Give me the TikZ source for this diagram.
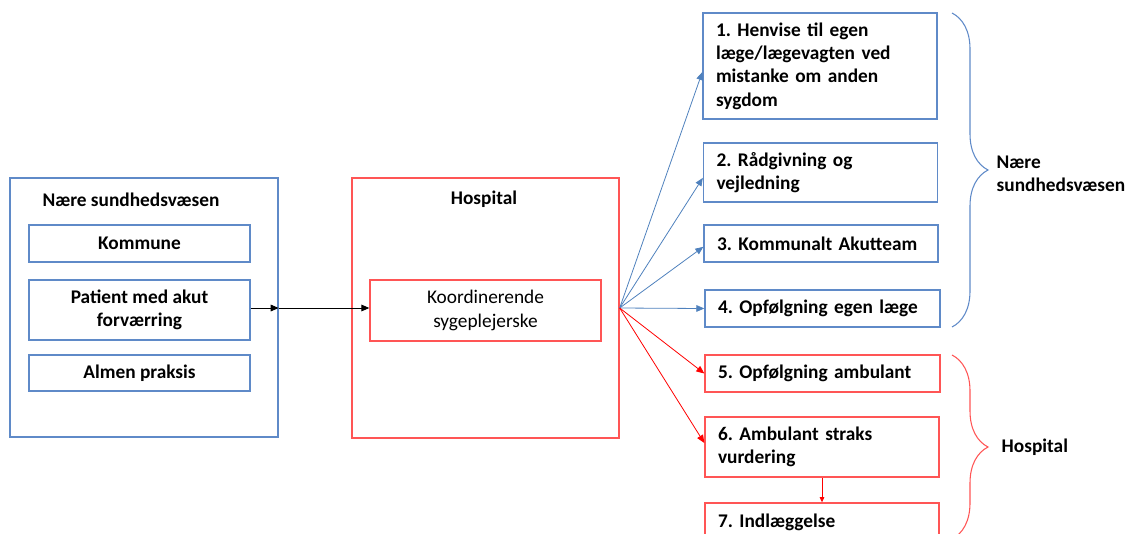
\documentclass[tikz,border=0pt]{standalone}
\usepackage{fontspec}
\setmainfont{Carlito}
\usetikzlibrary{arrows.meta,decorations.pathreplacing}
\definecolor{boxblue}{RGB}{95,138,200}
\definecolor{arrblue}{RGB}{79,129,189}
\definecolor{boxred}{RGB}{255,85,85}
\definecolor{arrred}{RGB}{255,0,0}
\begin{document}
\frenchspacing
\begin{tikzpicture}[x=0.75pt,y=-0.75pt,
    font=\fontsize{14.5}{17.5}\selectfont\bfseries,
    bluebox/.style={draw=boxblue,line width=1pt,inner sep=0pt,align=center},
    redbox/.style={draw=boxred,line width=1pt,inner sep=0pt,align=center},
    optbox/.style={line width=1pt,inner xsep=9.75pt,inner ysep=0pt,text width=156pt,align=left,minimum height=27.75pt},
    bluearr/.style={draw=arrblue,line width=0.6pt,-{Triangle[length=6pt,width=5pt]}},
    redarr/.style={draw=arrred,line width=0.6pt,-{Triangle[length=6pt,width=5pt]}},
    blkarr/.style={draw=black,line width=0.7pt,-{Triangle[length=6pt,width=5pt]}},
    curly/.style={draw,line width=0.8pt,decorate,decoration={brace,amplitude=27pt,aspect=0.5}}]
    \useasboundingbox (0,0) rectangle (1135,533);
    \clip (0,0) rectangle (1135,533);
    % left column
    \node[bluebox,minimum width=201pt,minimum height=194.25pt] (nsv) at (144,307.5) {};
    \node (nsvtitle) at (131,200) {Nære sundhedsvæsen};
    \node[bluebox,minimum width=165.75pt,minimum height=27.75pt] (kom) at (139.5,243.5) {Kommune};
    \node[bluebox,minimum width=165.75pt,minimum height=45pt] (pat) at (139.5,310) {Patient med akut\\forværring};
    \node[bluebox,minimum width=165.75pt,minimum height=27pt] (alm) at (139.5,373) {Almen praksis};
    % hospital
    \node[redbox,minimum width=200.25pt,minimum height=195pt] (hosp) at (485.5,308) {};
    \node (hosptitle) at (484,199) {Hospital};
    \node[redbox,minimum width=173.25pt,minimum height=45.75pt,font=\fontsize{14.5}{17.5}\selectfont] (koord) at (485.5,310.5) {Koordinerende\\sygeplejerske};
    \coordinate (mid) at (nsv.east |- 0,308);
    \draw[blkarr] (0,308 -| pat.east) -- (mid);
    \draw[blkarr] (mid) -- (0,308 -| koord.west);
    % options
    \node[optbox,draw=boxblue,minimum height=79.5pt] (b1) at (820,66) {1. Henvise til egen\\læge/lægevagten ved\\mistanke om anden\\sygdom};
    \node[optbox,draw=boxblue,minimum height=44.25pt] (b2) at (820.5,172.5) {2. Rådgivning og\\vejledning};
    \node[optbox,draw=boxblue] (b3) at (821,243.5) {3. Kommunalt Akutteam};
    \node[optbox,draw=boxblue,text width=156.75pt] (b4) at (822.5,308.5) {4. Opfølgning egen læge};
    \node[optbox,draw=boxred,text width=156.75pt] (b5) at (822.5,373.5) {5. Opfølgning ambulant};
    \node[optbox,draw=boxred,minimum height=45pt] (b6) at (822,447) {6. Ambulant straks\\vurdering};
    \node[optbox,draw=boxred,minimum height=28.5pt] (b7) at (822,522) {7. Indlæggelse};
    \draw[bluearr] (hosp.east) -- ([yshift=-4.5pt]b1.west);
    \draw[bluearr] (hosp.east) -- ([yshift=-4pt]b2.west);
    \draw[bluearr] (hosp.east) -- ([yshift=-2.5pt]b3.west);
    \draw[bluearr] (hosp.east) -- (b4.west);
    \draw[redarr] (hosp.east) -- (b5.west);
    \draw[redarr] (hosp.east) -- ([yshift=3pt]b6.west);
    \draw[draw=arrred,line width=0.6pt,-{Triangle[length=4pt,width=3.5pt]}] (b6.south) -- (b7.north);
    % braces
    \coordinate (c1a) at (952,13);
    \coordinate (c1b) at (952,327);
    \coordinate (c2a) at (952,355);
    \coordinate (c2b) at (952,539);
    \draw[curly,boxblue] (c1a) -- (c1b);
    \draw[curly,boxred] (c2a) -- (c2b);
    \node[anchor=west,align=left] (lbl1) at (992,173.5) {Nære\\sundhedsvæsen};
    \node[anchor=west] (lbl2) at (997,447) {Hospital};
\end{tikzpicture}
\end{document}
